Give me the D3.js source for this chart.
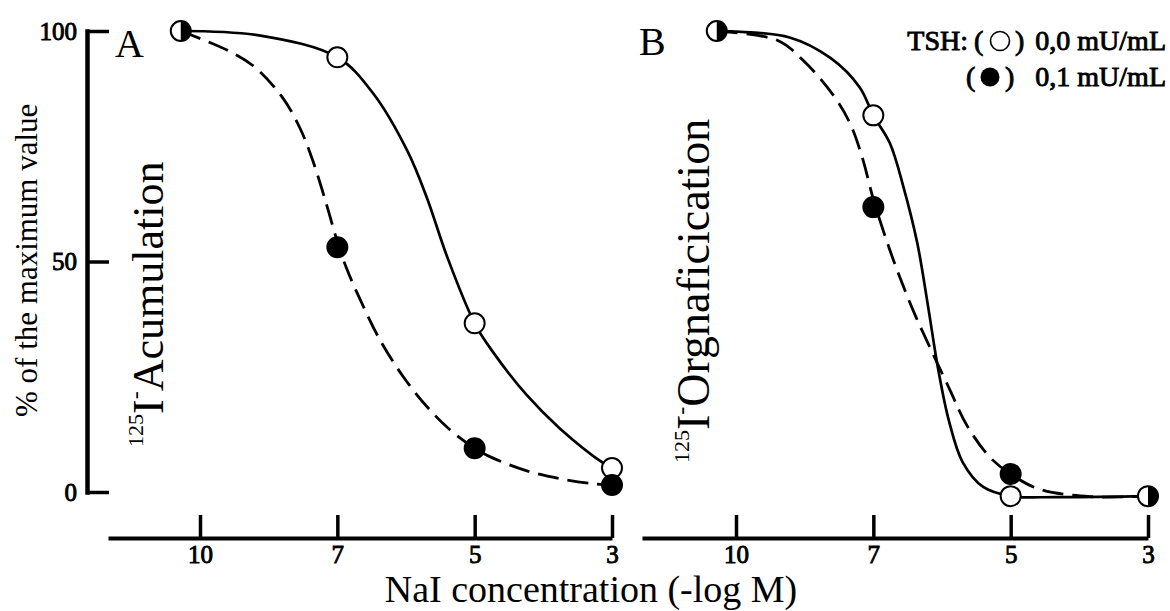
<!DOCTYPE html>
<html>
<head>
<meta charset="utf-8">
<script src="https://cdn.jsdelivr.net/npm/d3@7.9.0/dist/d3.min.js"></script>
<style>
  body { margin: 0; background: #fff; }
  svg { display: block; }
  text { font-family: "Liberation Serif", "Times New Roman", serif; fill: #000; }
  .bold { stroke: #000; stroke-width: 0.9px; }
</style>
</head>
<body>
<svg id="chart" width="1170" height="611"></svg>
<script>
// ---- data ----
const yTicks = [0, 50, 100];
const xTickLabels = ["10", "7", "5", "3"];      // -log M, one per tick slot
const pointPos = [-0.14, 1, 2, 3];              // slot of each measured point (control sits left of 10)

// 125I- accumulation (% of max)
const accOpen   = [100, 94.3, 36.6, 5.2];       // TSH 0,0 mU/mL
const accFilled = [100, 53.1, 9.5, 1.5];        // TSH 0,1 mU/mL
// 125I- organification (% of max)
const orgOpen   = [100, 81.7, -0.9, -0.9];
const orgFilled = [100, 61.8, 3.9, -0.9];

// fitted curves: [slot, value]
const accOpenCurve = [[-0.14, 100], [0.44, 99], [1, 94.3], [1.26, 86.5], [1.51, 74], [1.65, 64],
  [1.8, 51], [2, 36.6], [2.13, 30.5], [2.38, 21], [2.62, 13.8], [2.94, 6.2], [3, 5.2]];
const accFilledCurve = [[-0.14, 100], [0.2, 95.8], [0.39, 92.4], [0.6, 85.6], [0.73, 78.8], [0.82, 72],
  [0.92, 62.5], [1, 54.3], [1.07, 48.3], [1.17, 41.5], [1.31, 33], [1.48, 25], [1.65, 18.6],
  [1.82, 13.5], [2, 9.5], [2.13, 7.4], [2.38, 4.6], [2.62, 2.9], [2.86, 1.8], [3, 1.5]];
const orgOpenCurve = [[-0.14, 100], [0.39, 98.6], [0.69, 94.1], [0.9, 87.8], [1, 81.7], [1.12, 75.7],
  [1.22, 66.1], [1.32, 54], [1.4, 40], [1.47, 27], [1.55, 15.5], [1.65, 6.5], [1.8, 1.1],
  [2, -0.9], [2.34, -1.1], [3, -0.9]];
const orgFilledCurve = [[-0.14, 100], [0.3, 98], [0.49, 93.6], [0.71, 86], [0.83, 80], [0.92, 72.5],
  [1, 63.5], [1.08, 56], [1.15, 50], [1.22, 44.5], [1.31, 38], [1.41, 31.5], [1.56, 22],
  [1.68, 14.5], [1.85, 7.5], [2, 3.9], [2.21, 0.6], [2.58, -1], [3, -0.9]];

// ---- drawing ----
const svg = d3.select("#chart");
const y = d3.scaleLinear().domain([0, 100]).range([492, 31]);
const R = 10;

const panels = [
  { name: "A", title: "Acumulation", open: accOpen, filled: accFilled,
    openCurve: accOpenCurve, filledCurve: accFilledCurve,
    x: d3.scaleLinear().domain([0, 3]).range([200, 612]), axisStart: 108,
    nameX: 115, nameY: 57, titleX: 163, titleY: 447, titleSize: 44 },
  { name: "B", title: "Orgnaficication", open: orgOpen, filled: orgFilled,
    openCurve: orgOpenCurve, filledCurve: orgFilledCurve,
    x: d3.scaleLinear().domain([0, 3]).range([736, 1148]), axisStart: 642,
    nameX: 639, nameY: 55, titleX: 709, titleY: 463, titleSize: 46 }
];

// y axis (only on panel A)
const yAxis = svg.append("g")
  .attr("transform", "translate(87,0)")
  .call(d3.axisLeft(y).tickValues(yTicks).tickSizeInner(-22).tickSizeOuter(0).tickPadding(10));
yAxis.select(".domain").attr("stroke-width", 4.5).attr("stroke-linecap", "square");
yAxis.selectAll(".tick line").attr("stroke-width", 3.5);
yAxis.selectAll(".tick text").attr("class", "bold").attr("font-family", "Liberation Serif").attr("font-size", 25);

svg.append("text")
  .attr("transform", "translate(37,417) rotate(-90)")
  .attr("font-size", 31)
  .text("% of the maximum value");

const halfArc = d3.arc().innerRadius(0).outerRadius(R).startAngle(0).endAngle(Math.PI);

panels.forEach(p => {
  const g = svg.append("g");

  // x axis
  const axisScale = p.x.copy().domain([p.x.invert(p.axisStart), 3]).range([p.axisStart, p.x(3)]);
  const xAxis = g.append("g")
    .attr("transform", "translate(0,538)")
    .call(d3.axisBottom(axisScale).tickValues([0, 1, 2, 3]).tickFormat(i => xTickLabels[i])
      .tickSizeInner(-23).tickSizeOuter(0).tickPadding(7));
  xAxis.select(".domain").attr("stroke-width", 4);
  xAxis.selectAll(".tick line").attr("stroke-width", 3.5);
  xAxis.selectAll(".tick text").attr("class", "bold").attr("font-family", "Liberation Serif").attr("font-size", 25);

  // panel letter
  g.append("text").attr("x", p.nameX).attr("y", p.nameY).attr("font-size", 40).text(p.name);

  // rotated panel title  125I- ...
  const t = g.append("text")
    .attr("transform", `translate(${p.titleX},${p.titleY}) rotate(-90)`)
    .attr("font-size", p.titleSize);
  t.append("tspan").attr("font-size", 22).attr("dy", -20).text("125");
  t.append("tspan").attr("dy", 20).text("I");
  t.append("tspan").attr("font-size", 24).attr("dy", -20).text("-");
  t.append("tspan").attr("dy", 20).text(p.title);

  // curves
  const line = d3.line().x(d => p.x(d[0])).y(d => y(d[1])).curve(d3.curveCatmullRom.alpha(0.5));
  g.append("path").attr("d", line(p.openCurve))
    .attr("fill", "none").attr("stroke", "#000").attr("stroke-width", 2.7);
  g.append("path").attr("d", line(p.filledCurve))
    .attr("fill", "none").attr("stroke", "#000").attr("stroke-width", 2.8)
    .attr("stroke-dasharray", "21,9");

  // points: shared values get a half-filled marker
  const pts = [];
  pointPos.forEach((pos, i) => {
    if (p.open[i] === p.filled[i]) pts.push({ pos, v: p.open[i], kind: "half" });
    else {
      pts.push({ pos, v: p.open[i], kind: "open" });
      pts.push({ pos, v: p.filled[i], kind: "filled" });
    }
  });
  pts.sort((a, b) => b.v - a.v);   // lower markers drawn on top

  const mk = g.selectAll("g.pt").data(pts).join("g")
    .attr("class", "pt")
    .attr("transform", d => `translate(${p.x(d.pos)},${y(d.v)})`);
  mk.append("circle").attr("r", R)
    .attr("fill", d => d.kind === "filled" ? "#000" : "#fff")
    .attr("stroke", "#000").attr("stroke-width", 2);
  mk.filter(d => d.kind === "half").append("path").attr("d", halfArc).attr("fill", "#000");
});

// x title
svg.append("text")
  .attr("x", 591).attr("y", 602)
  .attr("text-anchor", "middle")
  .attr("font-size", 38)
  .text("NaI concentration (-log M)");

// legend
const lg = svg.append("g").attr("font-size", 28);
lg.append("text").attr("class", "bold").attr("x", 968).attr("y", 50).attr("text-anchor", "end").text("TSH:");
lg.append("text").attr("class", "bold").attr("x", 974).attr("y", 50).text("(");
lg.append("circle").attr("cx", 1000).attr("cy", 41).attr("r", 9.5)
  .attr("fill", "#fff").attr("stroke", "#000").attr("stroke-width", 1.6);
lg.append("text").attr("class", "bold").attr("x", 1015).attr("y", 50).text(")");
lg.append("text").attr("class", "bold").attr("x", 1166).attr("y", 50).attr("text-anchor", "end").text("0,0 mU/mL");

lg.append("text").attr("class", "bold").attr("x", 966).attr("y", 86).text("(");
lg.append("circle").attr("cx", 990).attr("cy", 77).attr("r", 9.5).attr("fill", "#000");
lg.append("text").attr("class", "bold").attr("x", 1005).attr("y", 86).text(")");
lg.append("text").attr("class", "bold").attr("x", 1166).attr("y", 86).attr("text-anchor", "end").text("0,1 mU/mL");
</script>
</body>
</html>
